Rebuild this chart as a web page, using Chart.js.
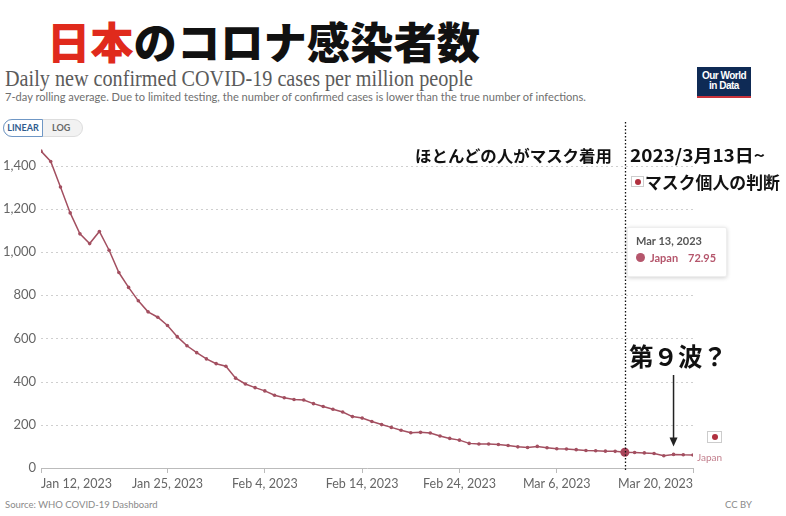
<!DOCTYPE html>
<html>
<head>
<meta charset="utf-8">
<script src="https://cdn.jsdelivr.net/npm/chart.js@4.4.1/dist/chart.umd.min.js"></script>
<style>
  body{margin:0;background:#fff;width:786px;height:516px;overflow:hidden;position:relative;font-family:Lato,"Noto Sans",sans-serif}
  .abs{position:absolute;white-space:nowrap}
  .jp{font-family:"Noto Sans CJK JP",sans-serif;font-weight:700;color:#111}
  #chart-box{position:absolute;left:0;top:110px;width:786px;height:386px}
  .flag{display:inline-block;position:absolute;background:#fff;border:1px solid #ccc;box-sizing:border-box}
  .flag::after{content:"";position:absolute;left:50%;top:50%;width:6px;height:6px;margin:-3px 0 0 -3px;border-radius:50%;background:#b0303e}
</style>
</head>
<body>
<div class="abs jp" id="title" style="left:47px;top:12px;font-size:43px;font-weight:900;line-height:56px"><span style="color:#e02a1c">日本</span>のコロナ感染者数</div>
<div class="abs" id="sub1" style="left:5px;top:64px;font-family:'Liberation Serif',serif;font-size:24px;color:#5b5b5b;line-height:28px">Daily new confirmed COVID-19 cases per million people</div>
<div class="abs" id="sub2" style="left:5px;top:90px;font-size:11.5px;color:#6f6f6f;line-height:14px">7-day rolling average. Due to limited testing, the number of confirmed cases is lower than the true number of infections.</div>

<div class="abs" style="left:697px;top:67px;width:54px;height:31px;background:#0e2a55;border-bottom:2px solid #c8323a;box-sizing:border-box;color:#fff;font-family:'Liberation Sans Narrow','Liberation Sans',sans-serif;font-weight:700;font-size:10px;line-height:10px;text-align:center;padding-top:4px;letter-spacing:-0.5px">Our World<br>in Data</div>

<div class="abs" style="left:3px;top:119px;width:80px;height:18px;border-radius:9px;background:#f2f2f2;border:1px solid #ddd;box-sizing:border-box"></div>
<div class="abs" style="left:3px;top:119px;width:40px;height:18px;border-radius:9px 0 0 9px;background:#fff;border:1.5px solid #6f97c5;box-sizing:border-box;color:#2f5c8f;font-size:9px;font-weight:700;line-height:15px;text-align:center">LINEAR</div>
<div class="abs" style="left:52px;top:119px;font-size:9px;color:#666;line-height:18px;font-weight:700">LOG</div>

<div id="chart-box"><canvas id="chart"></canvas></div>

<div class="abs jp" id="ann1" style="left:415px;top:144px;font-size:16.4px;line-height:22px">ほとんどの人がマスク着用</div>
<div class="abs jp" id="ann2" style="left:630px;top:143px;font-size:17.5px;line-height:24px">2023/3月13日~</div>
<span class="flag" style="left:631px;top:176px;width:13px;height:11px"></span>
<div class="abs jp" id="ann3" style="left:645px;top:170px;font-size:17px;line-height:24px">マスク個人の判断</div>
<div class="abs jp" id="ann4" style="left:629px;top:341px;font-size:24.5px;line-height:30px">第９波？</div>

<div class="abs" style="left:627px;top:227px;width:98px;height:48px;background:#fff;border:1px solid #eee;box-shadow:0 1px 4px rgba(0,0,0,0.18);border-radius:2px"></div>
<div class="abs" style="left:636px;top:234px;font-size:11px;font-weight:700;color:#555;line-height:14px">Mar 13, 2023</div>
<div class="abs" style="left:636px;top:253px;width:9px;height:9px;border-radius:50%;background:#b5566c"></div>
<div class="abs" id="tipname" style="left:650px;top:251px;font-size:11px;font-weight:700;color:#b5566c;line-height:13px">Japan</div>
<div class="abs" id="tipval" style="left:688px;top:251px;font-size:11px;font-weight:700;color:#b5566c;line-height:13px">72.95</div>

<span class="flag" style="left:707px;top:431px;width:15px;height:12px"></span>
<div class="abs" style="left:697px;top:451px;font-size:10px;color:#c27f8d;line-height:12px">Japan</div>

<div class="abs" style="left:5px;top:499px;font-size:9.5px;color:#8a8a8a;line-height:12px">Source: WHO COVID-19 Dashboard</div>
<div class="abs" style="left:725px;top:499px;font-size:9.5px;color:#8a8a8a;line-height:12px">CC BY</div>

<script>
// 7日平均（人口100万人あたり）、1/12〜3/20
const casesPerMillion = [
  1467, 1419, 1301, 1181, 1084, 1039, 1095, 1008, 905, 836,
  774, 723, 698, 660, 608, 566, 534, 505, 483, 471,
  416, 389, 372, 357, 337, 325, 317, 315, 298, 285,
  272, 259, 238, 231, 215, 201, 188, 175, 163, 165,
  162, 148, 137, 129, 114, 111, 111, 109, 104, 98,
  95, 100, 94, 89, 88, 85, 81, 80, 78, 77,
  72.95, 72, 70, 67, 57, 63, 61, 60
]
const tickDays = [0, 13, 23, 33, 43, 53, 67]
const tickLabels = ["Jan 12, 2023", "Jan 25, 2023", "Feb 4, 2023", "Feb 14, 2023", "Feb 24, 2023", "Mar 6, 2023", "Mar 20, 2023"]
const yTicks = [0, 200, 400, 600, 800, 1000, 1200, 1400]
const maskDay = 60   // 3/13
const waveDay = 65   // 第9波？の矢印

const lineColor = "#a34f60"

// 横幅を参照画像に合わせる
function fitWidth(id, w){
    const el = document.getElementById(id)
    const r = w / el.getBoundingClientRect().width
    el.style.transformOrigin = "0 0"
    el.style.transform = "scaleX(" + r + ")"
}
fitWidth("title", 433)
fitWidth("sub1", 468)
fitWidth("sub2", 581)
fitWidth("ann1", 197)
fitWidth("ann2", 135)
fitWidth("ann3", 135)
fitWidth("ann4", 98)

const points = casesPerMillion.map((v, i) => ({x: i, y: v}))

const overlay = {
    id: "overlay",
    beforeDatasetsDraw(chart){
        // 点線のグリッド
        const c = chart.ctx
        const ys = chart.scales.y, a = chart.chartArea
        c.save()
        c.strokeStyle = "#cfcfcf"
        c.lineWidth = 1
        c.setLineDash([2, 3])
        for(const v of yTicks){
            if(v === 0) continue
            const y = Math.round(ys.getPixelForValue(v)) + 0.5
            c.beginPath()
            c.moveTo(a.left, y)
            c.lineTo(a.right, y)
            c.stroke()
        }
        c.restore()
    },
    afterDatasetsDraw(chart){
        const c = chart.ctx
        const xs = chart.scales.x, ys = chart.scales.y
        // 3/13 の点線
        const mx = Math.round(xs.getPixelForValue(maskDay)) + 0.5
        c.save()
        c.strokeStyle = "#111"
        c.lineWidth = 1.3
        c.setLineDash([1.5, 2])
        c.beginPath()
        c.moveTo(mx, 12)
        c.lineTo(mx, chart.chartArea.bottom + 4)
        c.stroke()
        c.setLineDash([])
        // 矢印
        const ax = xs.getPixelForValue(waveDay)
        const tip = ys.getPixelForValue(casesPerMillion[waveDay]) - 8
        c.strokeStyle = "#222"
        c.fillStyle = "#222"
        c.lineWidth = 1.5
        c.beginPath()
        c.moveTo(ax, 265)
        c.lineTo(ax, tip - 8)
        c.stroke()
        c.beginPath()
        c.moveTo(ax - 4, tip - 9)
        c.lineTo(ax + 4, tip - 9)
        c.lineTo(ax, tip)
        c.closePath()
        c.fill()
        c.restore()
    }
}

new Chart(document.getElementById("chart"), {
    type: "line",
    data: {
        datasets: [{
            data: points,
            borderColor: lineColor,
            backgroundColor: lineColor,
            borderWidth: 1.5,
            pointRadius: ctx => ctx.dataIndex === maskDay ? 4.5 : 1.8,
            pointBackgroundColor: ctx => ctx.dataIndex === maskDay ? "#a8455a" : lineColor,
            pointBorderWidth: 0,
            tension: 0
        }]
    },
    options: {
        responsive: true,
        maintainAspectRatio: false,
        animation: false,
        layout: {padding: {left: 0, right: 93, top: 34, bottom: 0}},
        plugins: {legend: {display: false}, tooltip: {enabled: false}},
        scales: {
            x: {
                type: "linear",
                min: 0,
                max: 67,
                afterFit(s){ s.height = 28 },
                afterBuildTicks(s){ s.ticks = tickDays.map(v => ({value: v})) },
                ticks: {
                    align: "inner",
                    color: "#666",
                    font: {family: "Lato", size: 12.5},
                    padding: 3,
                    maxRotation: 0,
                    autoSkip: false,
                    callback: (v) => tickLabels[tickDays.indexOf(v)]
                },
                grid: {drawOnChartArea: false, drawTicks: true, tickLength: 5, color: "#bbb"},
                border: {color: "#bbb", width: 1}
            },
            y: {
                min: 0,
                max: 1500,
                afterFit(s){ s.width = 41 },
                afterBuildTicks(s){ s.ticks = yTicks.map(v => ({value: v})) },
                ticks: {
                    color: "#666",
                    font: {family: "Lato", size: 13},
                    padding: 5
                },
                grid: {color: "rgba(0,0,0,0)", drawTicks: false},
                border: {display: false}
            }
        }
    },
    plugins: [overlay]
})
</script>
</body>
</html>
